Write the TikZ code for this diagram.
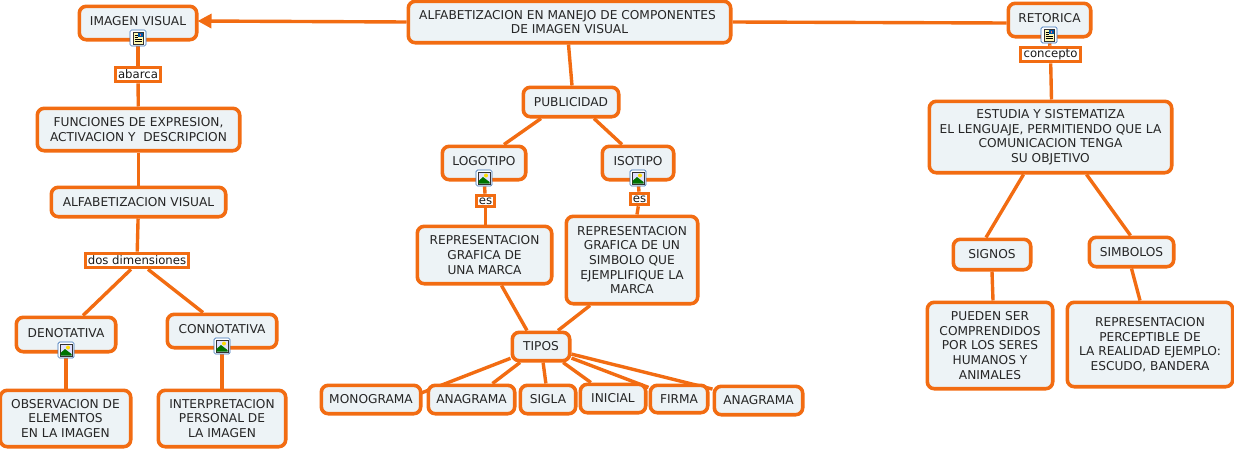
\documentclass[tikz,border=0pt]{standalone}
\usepackage{fontspec}
\setmainfont{DejaVu Sans}
\usetikzlibrary{arrows.meta,backgrounds}
\definecolor{edge}{HTML}{F26C12}
\definecolor{fillc}{HTML}{EDF3F6}
\definecolor{iconb}{HTML}{3A73B8}
\tikzset{
 x=1pt,y=-1pt,
 concept/.style={draw=edge,fill=fillc,line width=3.6pt,rounded corners=7pt,align=center,inner sep=0pt,font=\fontsize{12.2}{14.6}\selectfont,text=black!85},
 linkbox/.style={draw=edge,fill=white,line width=3.2pt,inner sep=0pt,font=\fontsize{11.7}{13}\selectfont,text=black!90},
 conn/.style={draw=edge,line width=3.4pt},
 iconbox/.style={draw=iconb,fill=white,line width=.7pt,rounded corners=1.5pt,minimum size=16pt,inner sep=0pt},
}
\newcommand\cbox[7]{% name, x0,y0,x1,y1,text,style
 \node[#7,minimum width=#4pt-#2pt-0.6pt,minimum height=#5pt-#3pt-0.6pt] (#1) at ({(#2+#4)/2},{(#3+#5)/2}) {#6};}
\newcommand\docicon[3]{%
 \node[iconbox] (#1) at (#2,#3) {};
 \fill[black!80] (#2-5.5,#3-6.5) rectangle (#2+5.5,#3+6.5);
 \fill[yellow!30] (#2-4.5,#3-5.5) rectangle (#2+4.5,#3+5.5);
 \fill[teal!70!blue] (#2,#3-5.5) rectangle (#2+4.5,#3-1);
 \fill[red!60] (#2+1.5,#3-4.5) rectangle (#2+3,#3-2.5);
 \foreach \yy in {-3,-1,1,3}{\draw[black,line width=.6pt] (#2-3.5,#3+\yy) -- (#2+\ifnum\yy<0 -0.5\else 3.5\fi,#3+\yy);}
}
\newcommand\imgicon[3]{%
 \node[iconbox] (#1) at (#2,#3) {};
 \fill[black!80] (#2-6.5,#3-6.5) rectangle (#2+6.5,#3+6.5);
 \fill[blue!12] (#2-5.5,#3-5.5) rectangle (#2+5.5,#3+5.5);
 \fill[yellow!80!orange] (#2+2,#3-2.5) circle (2pt);
 \fill[green!45!black] (#2-5.5,#3+5.5) -- (#2-5.5,#3+3) -- (#2-1,#3-1) -- (#2+5.5,#3+4) -- (#2+5.5,#3+5.5) -- cycle;
}
\begin{document}
\begin{tikzpicture}
\useasboundingbox (0,0) rectangle (1234,450);
\cbox{main}{408}{1}{731}{43}{\hspace*{-4pt}ALFABETIZACION EN MANEJO DE COMPONENTES\\DE IMAGEN VISUAL}{concept}
\cbox{imagen}{79}{6}{197}{40}{\raisebox{4pt}{IMAGEN VISUAL}}{concept}
\cbox{retorica}{1008}{3}{1091}{37}{\raisebox{4pt}{RETORICA}}{concept}
\cbox{abarca}{115}{67}{161}{82}{abarca}{linkbox}
\cbox{concepto}{1020}{47}{1081}{62}{concepto}{linkbox}
\cbox{func}{37}{108}{240}{151}{FUNCIONES DE EXPRESION,\\ACTIVACION Y\ \ DESCRIPCION}{concept}
\cbox{alfab}{51}{187}{226}{217}{ALFABETIZACION VISUAL}{concept}
\cbox{dos}{85}{253}{189}{268}{dos dimensiones}{linkbox}
\cbox{deno}{16}{317}{116}{352}{\raisebox{4pt}{DENOTATIVA}}{concept}
\cbox{conno}{167}{314}{277}{348}{\raisebox{4pt}{CONNOTATIVA}}{concept}
\cbox{obs}{0}{390}{131}{447}{OBSERVACION DE\\ELEMENTOS\\EN LA IMAGEN}{concept}
\cbox{inter}{158}{390}{286}{447}{INTERPRETACION\\PERSONAL DE\\LA IMAGEN}{concept}
\cbox{pub}{523}{87}{619}{117}{PUBLICIDAD}{concept}
\cbox{logo}{442}{146}{526}{180}{\raisebox{4pt}{LOGOTIPO}}{concept}
\cbox{iso}{602}{146}{674}{180}{\raisebox{4pt}{ISOTIPO}}{concept}
\cbox{esa}{476}{195}{495}{207}{es}{linkbox}
\cbox{esb}{630}{193}{649}{205}{es}{linkbox}
\cbox{repa}{417}{226}{552}{284}{REPRESENTACION\\GRAFICA DE\\UNA MARCA}{concept}
\cbox{repb}{566}{216}{698}{304}{REPRESENTACION\\GRAFICA DE UN\\SIMBOLO QUE\\EJEMPLIFIQUE LA\\MARCA}{concept}
\cbox{tipos}{512}{332}{570}{361}{TIPOS}{concept}
\cbox{mono}{321}{385}{421}{414}{MONOGRAMA}{concept}
\cbox{anaa}{428}{385}{515}{414}{ANAGRAMA}{concept}
\cbox{sigla}{520}{385}{576}{414}{SIGLA}{concept}
\cbox{inicial}{580}{384}{646}{413}{INICIAL}{concept}
\cbox{firma}{650}{385}{708}{413}{FIRMA}{concept}
\cbox{anab}{714}{386}{803}{415}{ANAGRAMA}{concept}
\cbox{estu}{929}{101}{1172}{173}{ESTUDIA Y SISTEMATIZA\\EL LENGUAJE, PERMITIENDO QUE LA\\COMUNICACION TENGA\\SU OBJETIVO}{concept}
\cbox{signos}{953}{239}{1031}{270}{SIGNOS}{concept}
\cbox{simb}{1089}{237}{1174}{267}{SIMBOLOS}{concept}
\cbox{pueden}{927}{302}{1053}{389}{PUEDEN SER\\COMPRENDIDOS\\POR LOS SERES\\HUMANOS Y\\ANIMALES}{concept}
\cbox{repc}{1067}{302}{1233}{387}{REPRESENTACION\\PERCEPTIBLE DE\\LA REALIDAD EJEMPLO:\\ESCUDO, BANDERA}{concept}
\docicon{ia}{138}{38}
\docicon{ib}{1049}{35}
\imgicon{ic}{66}{350}
\imgicon{id}{222}{346}
\imgicon{ie}{484}{178}
\imgicon{if}{638}{178}
\begin{scope}[on background layer]
\draw[conn,-{Triangle[length=14pt,width=14pt]}] (main.west) -- ([xshift=-1pt,yshift=2pt]imagen.east);
\draw[conn] (main.east) -- ([yshift=-3pt]retorica.west);
\draw[conn] ([xshift=-1pt]main.south) -- ([xshift=1pt]pub.north);
\draw[conn] (ia) -- (abarca);
\draw[conn] (abarca) -- (func);
\draw[conn] (func) -- (alfab);
\draw[conn] (alfab) -- (dos);
\draw[conn] ([xshift=-6pt]dos.south) -- ([xshift=17pt]deno.north);
\draw[conn] ([xshift=11pt]dos.south) -- ([xshift=-19pt]conno.north);
\draw[conn] (ic) -- (ic |- obs.north);
\draw[conn] (id) -- (id |- inter.north);
\draw[conn] ([xshift=-30pt]pub.south) -- ([xshift=20pt]logo.north);
\draw[conn] ([xshift=23pt]pub.south) -- ([xshift=-16pt]iso.north);
\draw[conn] (ie) -- (esa);
\draw[conn] (esa) -- (esa |- repa.north);
\draw[conn] (if) -- (esb);
\draw[conn] (esb) -- ([xshift=5pt]repb.north);
\draw[conn] ([xshift=17pt]repa.south) -- ([xshift=-14pt]tipos.north);
\draw[conn] ([xshift=-42pt]repb.south) -- ([xshift=17pt]tipos.north);
\draw[conn] (tipos) -- ([yshift=-13pt]mono.center);
\draw[conn] (tipos) -- (anaa);
\draw[conn] (tipos) -- (sigla);
\draw[conn] (tipos) -- (inicial);
\draw[conn] (tipos) -- (firma);
\draw[conn] (tipos) -- (anab);
\draw[conn] (ib) -- (concepto);
\draw[conn] (concepto) -- ([xshift=1pt]estu.north);
\draw[conn] ([xshift=-27pt]estu.south) -- ([xshift=-6pt]signos.north);
\draw[conn] ([xshift=36pt]estu.south) -- ([xshift=-1pt]simb.north);
\draw[conn] ([xshift=0pt]signos.south) -- ([xshift=3pt]pueden.north);
\draw[conn] (simb.south) -- ([xshift=-10pt]repc.north);
\end{scope}
\end{tikzpicture}
\end{document}
